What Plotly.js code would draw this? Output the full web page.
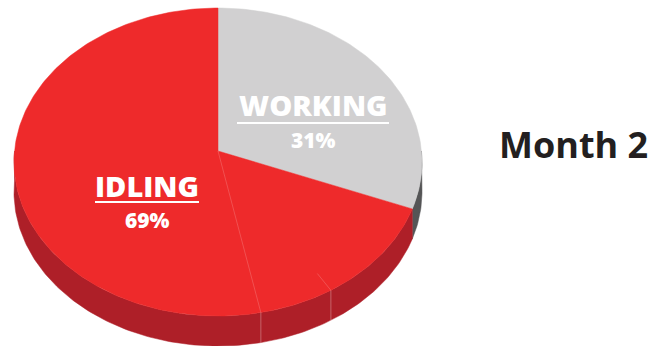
<!DOCTYPE html>
<html>
<head>
<meta charset="utf-8">
<script src="https://cdn.plot.ly/plotly-3.0.1.min.js"></script>
<style>html,body{margin:0;padding:0;background:#fff;}#chart{width:656px;height:346px;}</style>
</head>
<body>
<div id="chart"></div>
<script>
// ---- data ----
const categories = ['WORKING', 'IDLING'];
const shares = [31, 69];
const topColors = ['#D1D0D1', '#EE2A2B'];
const sideColors = ['#555556', '#AE1F28'];
const chartTitle = 'Month 2';

// ---- geometry of the tilted pie (pixels) ----
// b: perspective shift of the centre (apex sits above the ellipse centre)
const G = {cx: 218, cy: 162, rx: 204, ry: 154, depth: 30, b: -0.0714};
function pt(deg, dy) {
  const t = deg * Math.PI / 180;
  const u = Math.sin(t), v = -Math.cos(t);
  const den = 1 + G.b * v;
  const v2 = (v + G.b) / den, u2 = u * Math.sqrt(1 - G.b * G.b) / den;
  return [G.cx + G.rx * u2, G.cy + G.ry * v2 + (dy || 0)];
}
const apex = [G.cx, G.cy + G.ry * G.b];
function arc(a, b, dy) {
  const n = Math.max(2, Math.ceil(Math.abs(b - a)));
  const out = [];
  for (let i = 0; i <= n; i++) out.push(pt(a + (b - a) * i / n, dy));
  return out;
}

const total = shares.reduce((s, v) => s + v, 0);
const slices = [];
let acc = 0;
shares.forEach((v, i) => {
  const s = acc / total * 360, e = (acc + v) / total * 360;
  slices.push({s, e, i});
  acc += v;
});

const traces = [];
// sides (visible front half: 90..270)
slices.forEach(sl => {
  const a = Math.max(sl.s, 90), b = Math.min(sl.e, 270);
  if (b <= a) return;
  const pts = arc(a, b, 0).concat(arc(b, a, G.depth));
  pts.push(pts[0]);
  traces.push({type: 'scatter', mode: 'lines', fill: 'toself',
    x: pts.map(p => p[0]), y: pts.map(p => p[1]),
    fillcolor: sideColors[sl.i], line: {color: sideColors[sl.i], width: 0.5},
    hoverinfo: 'skip'});
});
// top faces
slices.forEach(sl => {
  const pts = [apex].concat(arc(sl.s, sl.e, 0));
  pts.push(apex);
  traces.push({type: 'scatter', mode: 'lines', fill: 'toself',
    x: pts.map(p => p[0]), y: pts.map(p => p[1]),
    fillcolor: topColors[sl.i], line: {color: topColors[sl.i], width: 0.5},
    hoverinfo: 'skip'});
});
// faint construction seams seen in the original artwork
const seamA = 168.7, seamB = 148.6;
[[apex, pt(seamA, 0)], [pt(seamA, 0), pt(seamA, G.depth)], [pt(seamB, 0), pt(seamB, G.depth)]].forEach((seg, k) => {
  traces.push({type: 'scatter', mode: 'lines', x: [seg[0][0], seg[1][0]], y: [seg[0][1], seg[1][1]],
    line: {color: k === 0 ? 'rgba(255,255,255,0.18)' : 'rgba(255,255,255,0.3)', width: 1}, hoverinfo: 'skip'});
});
{
  const p1 = pt(seamB, 0);
  const f = 0.88;
  traces.push({type: 'scatter', mode: 'lines', x: [apex[0] + (p1[0] - apex[0]) * f, p1[0]],
    y: [apex[1] + (p1[1] - apex[1]) * f, p1[1]], line: {color: 'rgba(255,255,255,0.18)', width: 1}, hoverinfo: 'skip'});
}

// ---- labels ----
const labelPos = [{x: 313, y: 104, uy: 123, half: 76, py: 140}, {x: 147, y: 185, uy: 202, half: 52, py: 220}];
const annotations = [];
const shapes = [];
categories.forEach((c, i) => {
  const p = labelPos[i];
  annotations.push({x: p.x, y: p.y, xref: 'x', yref: 'y', text: c, showarrow: false,
    font: {family: 'Open Sans', size: 29, color: '#ffffff', weight: 800}, xanchor: 'center', yanchor: 'middle'});
  annotations.push({x: p.x, y: p.py, xref: 'x', yref: 'y', text: shares[i] + '%', showarrow: false,
    font: {family: 'Open Sans', size: 21, color: '#ffffff', weight: 800}, xanchor: 'center', yanchor: 'middle'});
  shapes.push({type: 'line', xref: 'x', yref: 'y', x0: p.x - p.half, x1: p.x + p.half, y0: p.uy, y1: p.uy,
    line: {color: '#ffffff', width: 2}});
});
annotations.push({x: 573, y: 144, xref: 'x', yref: 'y', text: chartTitle, showarrow: false,
  font: {family: 'Open Sans', size: 36, color: '#231F20', weight: 700}, xanchor: 'center', yanchor: 'middle'});

const layout = {
  width: 656, height: 346, margin: {l: 0, r: 0, t: 0, b: 0},
  paper_bgcolor: '#ffffff', plot_bgcolor: '#ffffff', showlegend: false, hovermode: false,
  xaxis: {range: [0, 656], visible: false, fixedrange: true},
  yaxis: {range: [346, 0], visible: false, fixedrange: true},
  annotations, shapes
};
Plotly.newPlot('chart', traces, layout, {displayModeBar: false, staticPlot: true});
</script>
</body>
</html>
